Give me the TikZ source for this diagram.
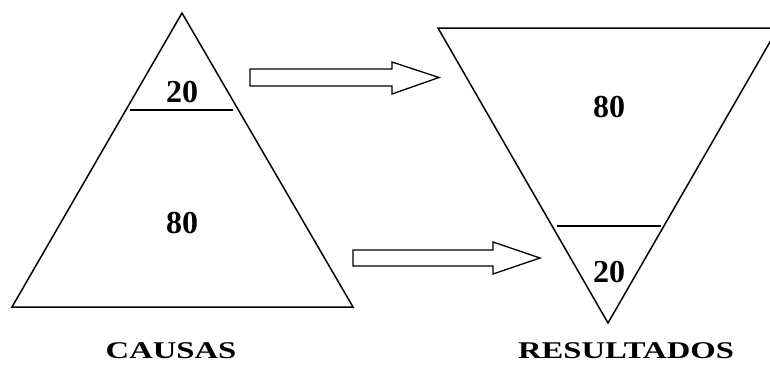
\documentclass[tikz,border=0pt]{standalone}
\usepackage{fontspec}
\setmainfont{Liberation Serif}
\usepackage{tikz}
\usetikzlibrary{calc}

\tikzset{
    outline/.style={black, line width=1.5pt, line join=miter},
    divider/.style={black, line width=1.4pt},
    share/.style={font=\fontsize{32}{34}\selectfont\bfseries},
    caption/.style={font=\fontsize{24}{28}\selectfont\bfseries, anchor=base}
}

\begin{document}
\begin{tikzpicture}[x=1pt, y=-1pt]
    \useasboundingbox (0,0) rectangle (770,367);

    % Causes: upright triangle
    \coordinate (ctop) at (182,13);
    \coordinate (cleft) at (12,307);
    \coordinate (cright) at (353,307);
    \draw[outline] (ctop) -- (cleft) -- (cright) -- cycle;
    \draw[divider] (130,110) -- (233,110);
    \node[share] (cfew) at (182,92.5) {20};
    \node[share] (cmany) at (182,223) {80};

    % Results: inverted triangle, runs off the right edge
    \begin{scope}
        \clip (0,0) rectangle (770,367);
        \coordinate (rleft) at (438,28);
        \coordinate (rright) at (778,28);
        \coordinate (rtip) at (608,323);
        \draw[outline] (rleft) -- (rright) -- (rtip) -- cycle;
    \end{scope}
    \draw[divider] (557,226) -- (661,226);
    \node[share] (rmany) at (609,107) {80};
    \node[share] (rfew) at (609,272) {20};

    % Block arrows
    \draw[outline, line width=1.3pt] (250,69) -- (392,69) -- (392,62) -- (439,77.5)
        -- (392,94) -- (392,86) -- (250,86) -- cycle;
    \draw[outline, line width=1.3pt] (353,250) -- (493,250) -- (493,242) -- (540,258)
        -- (493,274) -- (493,266) -- (353,266) -- cycle;

    % Captions
    \node[caption] (causas) at (171,358) {\scalebox{1.36}[1]{CAUSAS}};
    \node[caption] (resultados) at (626,358) {\scalebox{1.36}[1]{RESULTADOS}};
\end{tikzpicture}
\end{document}
